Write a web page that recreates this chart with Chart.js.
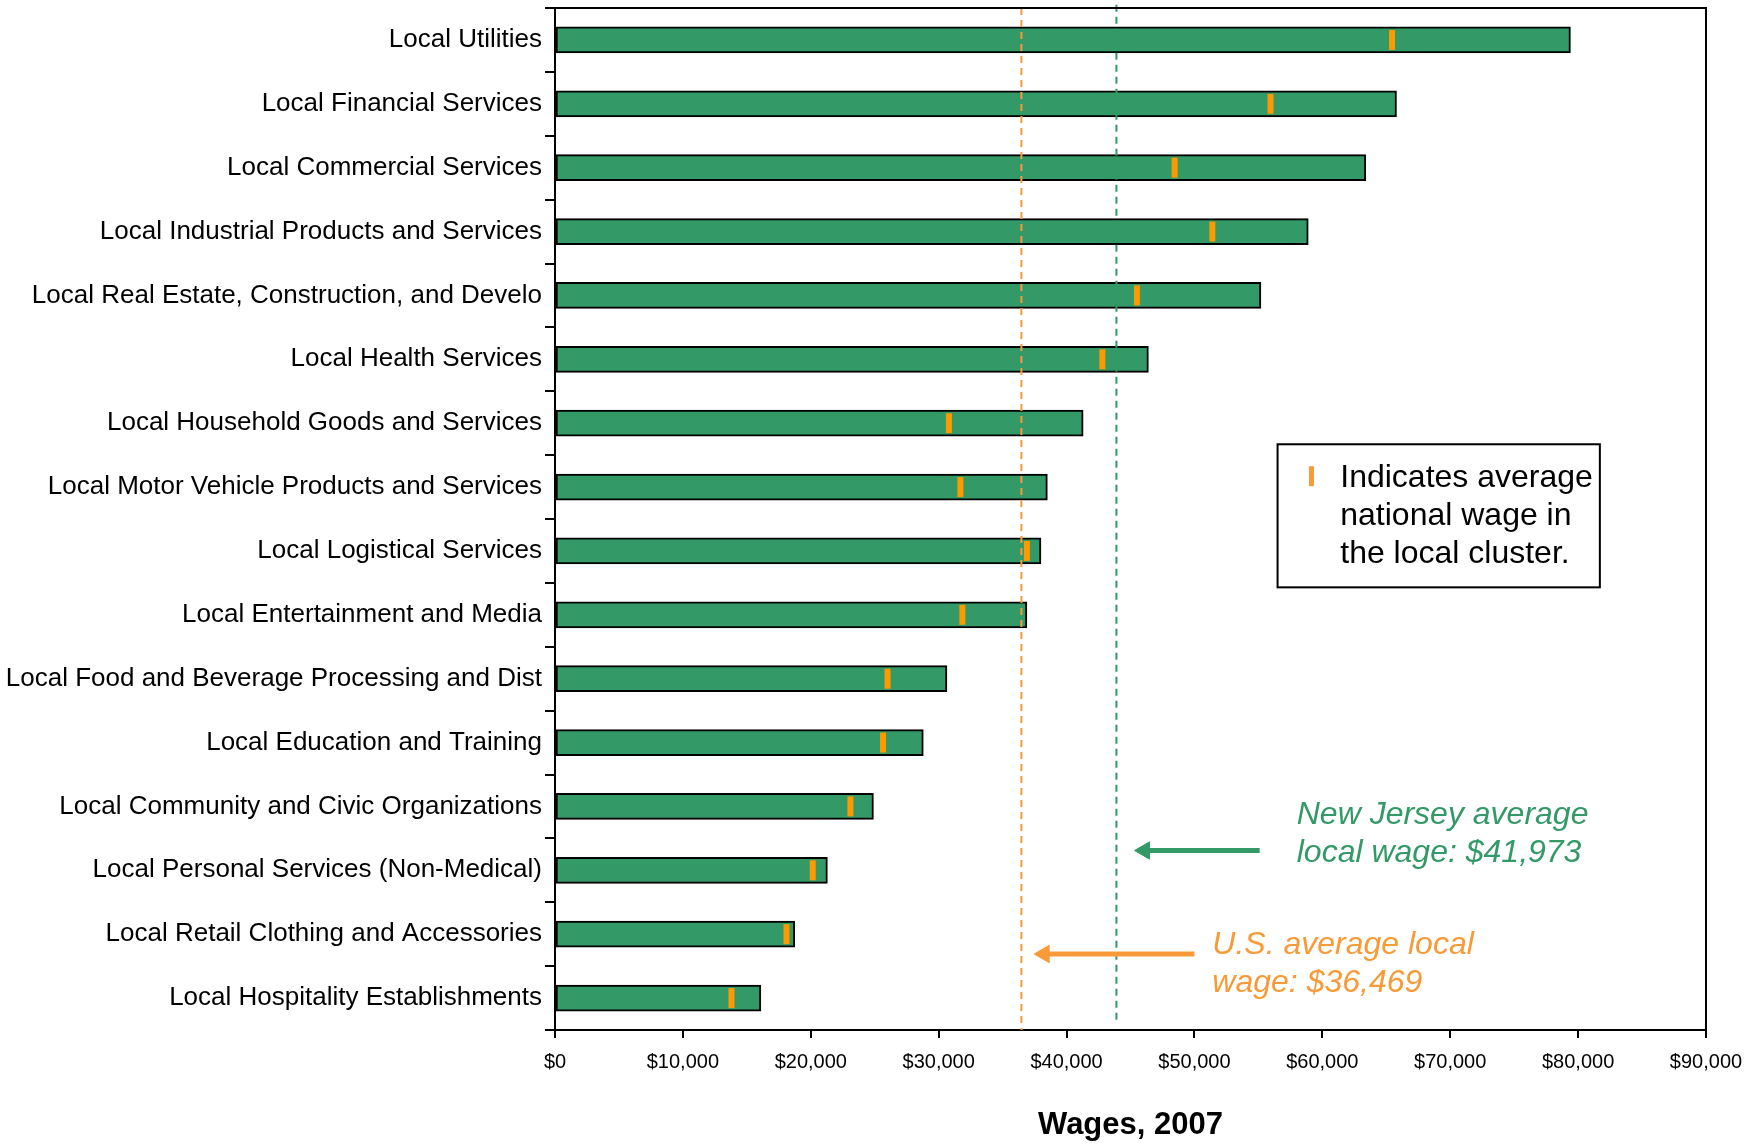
<!DOCTYPE html>
<html><head><meta charset="utf-8">
<script src="https://cdn.jsdelivr.net/npm/chart.js@4/dist/chart.umd.min.js"></script>
<style>html,body{margin:0;padding:0;background:#fff;}</style>
</head><body>
<canvas id="c" width="1764" height="1144"></canvas>
<script>
const categories = [
  "Local Utilities",
  "Local Financial Services",
  "Local Commercial Services",
  "Local Industrial Products and Services",
  "Local Real Estate, Construction, and Develo",
  "Local Health Services",
  "Local Household Goods and Services",
  "Local Motor Vehicle Products and Services",
  "Local Logistical Services",
  "Local Entertainment and Media",
  "Local Food and Beverage Processing and Dist",
  "Local Education and Training",
  "Local Community and Civic Organizations",
  "Local Personal Services (Non-Medical)",
  "Local Retail Clothing and Accessories",
  "Local Hospitality Establishments"
];
const localWages = [79400, 65800, 63400, 58900, 55200, 46400, 41300, 38500, 38000, 36900, 30650, 28800, 24900, 21300, 18750, 16100];
const nationalWages = [65450, 55950, 48450, 51400, 45500, 42800, 30800, 31700, 36900, 31850, 26000, 25650, 23100, 20150, 18100, 13800];
const xTickLabels = ["$0","$10,000","$20,000","$30,000","$40,000","$50,000","$60,000","$70,000","$80,000","$90,000"];
const usAverageLine = 36469;
const njAverageLine = 43900;
const njLabel = ["New Jersey average", "local wage: $41,973"];
const usLabel = ["U.S. average local", "wage: $36,469"];
const legendLines = ["Indicates average", "national wage in", "the local cluster."];
const axisTitle = "Wages, 2007";

const GREEN = '#339966';
const ORANGE = '#FF9900';
const LORANGE = '#F99A38';
const FONT = '"Liberation Sans", Arial, sans-serif';

const markerPoints = nationalWages.map((v, i) => ({x: v, y: i}));
const yMin = -0.5, yMax = categories.length - 0.5;

const overlay = {
  id: 'overlay',
  afterDraw(chart) {
    const {ctx, chartArea: a, scales} = chart;
    const x = scales.x, y = scales.yl;
    ctx.save();
    // frame top & right
    ctx.strokeStyle = '#000';
    ctx.lineWidth = 2;
    ctx.beginPath();
    ctx.moveTo(a.left, a.top);
    ctx.lineTo(a.right, a.top);
    ctx.lineTo(a.right, a.bottom);
    ctx.stroke();

    // legend box
    const bx1 = x.getPixelForValue(56500), bx2 = x.getPixelForValue(81700);
    const by1 = y.getPixelForValue(6.33), by2 = y.getPixelForValue(8.57);
    ctx.fillStyle = '#fff';
    ctx.fillRect(bx1, by1, bx2 - bx1, by2 - by1);
    ctx.lineWidth = 2;
    ctx.strokeStyle = '#000';
    ctx.strokeRect(bx1, by1, bx2 - bx1, by2 - by1);
    // legend marker
    ctx.strokeStyle = LORANGE;
    ctx.lineWidth = 5;
    const mx = x.getPixelForValue(59150), my = y.getPixelForValue(6.83);
    ctx.beginPath();
    ctx.moveTo(mx, my - 10);
    ctx.lineTo(mx, my + 10);
    ctx.stroke();
    ctx.fillStyle = '#000';
    ctx.font = '32px ' + FONT;
    ctx.textAlign = 'left';
    ctx.textBaseline = 'middle';
    const lx = x.getPixelForValue(61400);
    const legendYs = [6.86, 7.46, 8.05];
    legendLines.forEach((t, i) => ctx.fillText(t, lx, y.getPixelForValue(legendYs[i])));

    // annotations
    ctx.font = 'italic 32px ' + FONT;
    ctx.fillStyle = GREEN;
    const njX = x.getPixelForValue(58000);
    [12.13, 12.73].forEach((v, i) => ctx.fillText(njLabel[i], njX, y.getPixelForValue(v)));
    ctx.fillStyle = LORANGE;
    const usX = x.getPixelForValue(51400);
    [14.17, 14.77].forEach((v, i) => ctx.fillText(usLabel[i], usX, y.getPixelForValue(v)));
    ctx.restore();
  }
};

new Chart(document.getElementById('c'), {
  type: 'bar',
  data: {
    labels: categories,
    datasets: [
      {
        type: 'bar',
        label: 'Local wage',
        data: localWages,
        xAxisID: 'x',
        yAxisID: 'y',
        backgroundColor: GREEN,
        borderColor: '#000',
        borderWidth: 2,
        borderSkipped: false,
        grouped: false,
        barThickness: 26,
        order: 5
      },
      {
        type: 'line',
        label: 'US average',
        data: [{x: usAverageLine, y: yMin}, {x: usAverageLine, y: yMax}],
        xAxisID: 'x', yAxisID: 'yl',
        borderColor: LORANGE, borderWidth: 2, borderDash: [7, 5],
        pointRadius: 0, fill: false, order: 4
      },
      {
        type: 'line',
        label: 'NJ average',
        data: [{x: njAverageLine, y: yMin - 0.05}, {x: njAverageLine, y: yMax - 0.1}],
        xAxisID: 'x', yAxisID: 'yl',
        borderColor: GREEN, borderWidth: 2, borderDash: [7, 5],
        pointRadius: 0, fill: false, order: 4, clip: false
      },
      {
        type: 'line',
        label: 'NJ arrow',
        data: [{x: 46100, y: 12.69}, {x: 55100, y: 12.69}],
        xAxisID: 'x', yAxisID: 'yl',
        borderColor: GREEN, borderWidth: 5,
        pointStyle: 'triangle', rotation: -90,
        pointRadius: [10, 0], pointBackgroundColor: GREEN, pointBorderColor: GREEN, pointBorderWidth: 1,
        fill: false, order: 3
      },
      {
        type: 'line',
        label: 'US arrow',
        data: [{x: 38250, y: 14.31}, {x: 50000, y: 14.31}],
        xAxisID: 'x', yAxisID: 'yl',
        borderColor: LORANGE, borderWidth: 5,
        pointStyle: 'triangle', rotation: -90,
        pointRadius: [10, 0], pointBackgroundColor: LORANGE, pointBorderColor: LORANGE, pointBorderWidth: 1,
        fill: false, order: 3
      },
      {
        type: 'scatter',
        label: 'National wage',
        data: markerPoints,
        xAxisID: 'x', yAxisID: 'yl',
        pointStyle: 'line', rotation: 90,
        pointRadius: 10, pointBorderWidth: 6,
        borderColor: ORANGE, backgroundColor: ORANGE,
        showLine: false, order: 1
      }
    ]
  },
  options: {
    indexAxis: 'y',
    responsive: false,
    animation: false,
    events: [],
    layout: {autoPadding: false, padding: {left: 0, right: 58, top: 8, bottom: 0}},
    plugins: {legend: {display: false}, tooltip: {enabled: false}},
    scales: {
      x: {
        type: 'linear', axis: 'x', position: 'bottom',
        min: 0, max: 90000, offset: false,
        ticks: {
          stepSize: 10000, color: '#000', padding: 12,
          font: {family: FONT, size: 20},
          callback: (v, i) => xTickLabels[i]
        },
        grid: {offset: false, drawOnChartArea: false, drawTicks: true, tickLength: 8, color: '#000', lineWidth: 2},
        border: {display: true, color: '#000', width: 2},
        title: {display: true, text: axisTitle, color: '#000', font: {family: FONT, size: 31, weight: 'bold'}, padding: 0},
        afterFit: s => { s.height = 114; }
      },
      y: {
        type: 'category', axis: 'y', position: 'left',
        offset: true,
        ticks: {color: '#000', padding: 3, font: {family: FONT, size: 26}, autoSkip: false},
        grid: {offset: true, drawOnChartArea: false, drawTicks: true, tickLength: 10, color: '#000', lineWidth: 2},
        border: {display: true, color: '#000', width: 2},
        afterFit: s => { s.width = 555; s.paddingTop = 0; s.paddingBottom = 0; }
      },
      yl: {
        type: 'linear', axis: 'y', display: false, offset: false,
        grid: {offset: false},
        min: yMin, max: yMax, reverse: true
      }
    }
  },
  plugins: [overlay]
});
</script>
</body></html>
